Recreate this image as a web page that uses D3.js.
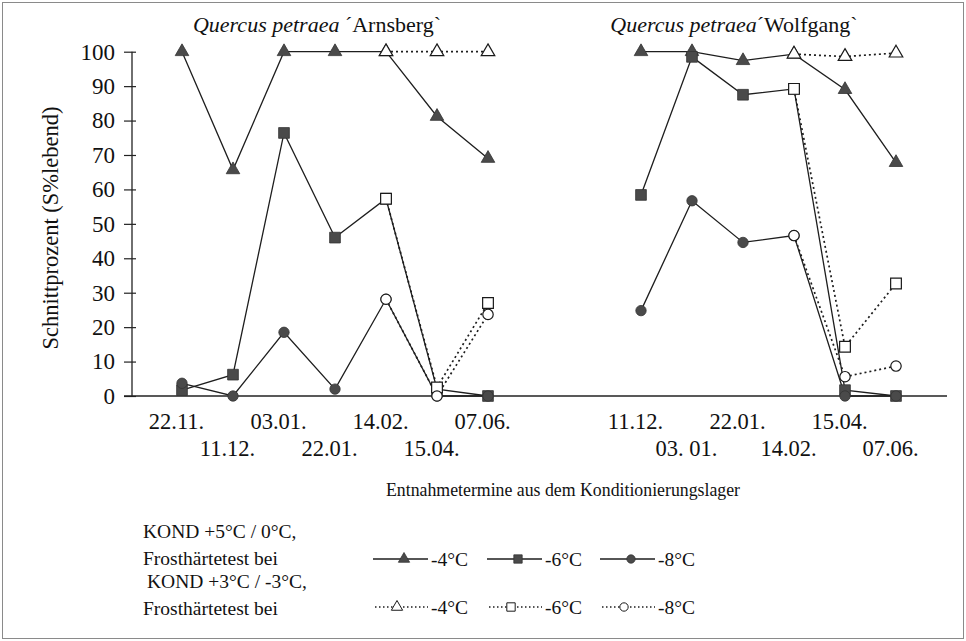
<!DOCTYPE html>
<html>
<head>
<meta charset="utf-8">
<script src="https://cdn.jsdelivr.net/npm/d3@7"></script>
<style>
  html, body { margin: 0; padding: 0; background: #fff; }
  svg { display: block; }
</style>
</head>
<body>
<svg id="chart" width="966" height="641"></svg>
<script>
// Sampling dates for the two cultivars
const arnsbergDates = ["22.11.", "11.12.", "03.01.", "22.01.", "14.02.", "15.04.", "07.06."];
const wolfgangDates = ["11.12.", "03. 01.", "22.01.", "14.02.", "15.04.", "07.06."];
// Dates from which the second conditioning regime is continued
const arnsbergDates2 = ["14.02.", "15.04.", "07.06."];
const wolfgangDates2 = ["14.02.", "15.04.", "07.06."];

// KOND +5°C / 0°C (solid), Arnsberg
const arnsberg5_m4 = [100, 65.7, 100, 100, 100, 81.2, 69];
const arnsberg5_m6 = [1.7, 6.2, 76.4, 46, 57.3, 2, 0];
const arnsberg5_m8 = [3.7, 0, 18.5, 2, 28.1, 0, 0];
// KOND +3°C / -3°C (dotted), Arnsberg
const arnsberg3_m4 = [100, 100, 100];
const arnsberg3_m6 = [57.3, 2.5, 27];
const arnsberg3_m8 = [28.1, 0, 23.7];

// KOND +5°C / 0°C (solid), Wolfgang
const wolfgang5_m4 = [100, 100, 97.4, 99.3, 89, 67.8];
const wolfgang5_m6 = [58.4, 98.5, 87.5, 89.2, 1.7, 0];
const wolfgang5_m8 = [24.8, 56.7, 44.6, 46.6, 0, 0];
// KOND +3°C / -3°C (dotted), Wolfgang
const wolfgang3_m4 = [99.3, 98.6, 99.6];
const wolfgang3_m6 = [89.2, 14.3, 32.7];
const wolfgang3_m8 = [46.6, 5.6, 8.7];

const yTicks = [0, 10, 20, 30, 40, 50, 60, 70, 80, 90, 100];
const legendTemps = ["-4°C", "-6°C", "-8°C"];

const SERIF = "'Liberation Serif', 'Times New Roman', serif";
const svg = d3.select("#chart");

// outer frame
svg.append("rect").attr("x", 2.5).attr("y", 2.5).attr("width", 961).attr("height", 636)
  .attr("fill", "none").attr("stroke", "#8a8a8a").attr("stroke-width", 1);

// one shared categorical axis: Arnsberg slots, two empty slots, Wolfgang slots
const slotsA = arnsbergDates.map(d => "A|" + d);
const slotsW = wolfgangDates.map(d => "W|" + d);
const slots = ["start", ...slotsA, "gap1", "gap2", ...slotsW, "end"];
const x = d3.scalePoint().domain(slots).range([131, 947]);
const y = d3.scaleLinear().domain([0, 100]).range([396, 51.7]);
const axisX = 132;

// y axis
const yAxis = svg.append("g").attr("transform", `translate(${axisX},0)`)
  .call(d3.axisLeft(y).tickValues(yTicks).tickSize(8).tickPadding(9).tickFormat(d3.format("d")));
yAxis.select(".domain").attr("stroke", "#222").attr("stroke-width", 1.3).attr("d", `M0,${y(0)}V${y(100)}`);
yAxis.selectAll(".tick line").attr("x1", 4).attr("stroke", "#222").attr("stroke-width", 1.2);
yAxis.selectAll(".tick text").attr("fill", "#111")
  .style("font-family", SERIF).style("font-size", "23px");

// x axis baseline
svg.append("line").attr("x1", 124).attr("x2", 947).attr("y1", y(0)).attr("y2", y(0))
  .attr("stroke", "#222").attr("stroke-width", 1.3);

// x axis labels in two staggered rows
const labelSlots = [...slotsA, ...slotsW];
const xAxis = svg.append("g").attr("transform", `translate(0,${y(0)})`)
  .call(d3.axisBottom(x).tickValues(labelSlots).tickSize(0).tickFormat(d => d.split("|")[1]));
xAxis.select(".domain").remove();
xAxis.selectAll(".tick text")
  .attr("fill", "#111")
  .style("font-family", SERIF).style("font-size", "22.5px")
  .attr("dy", null).attr("dx", -6)
  .attr("y", d => {
    const list = d.startsWith("A|") ? slotsA : slotsW;
    return list.indexOf(d) % 2 === 0 ? 33 : 60;
  });

function txt(tx, ty, str, size, anchor) {
  return svg.append("text").attr("x", tx).attr("y", ty)
    .attr("text-anchor", anchor || "start").attr("fill", "#111")
    .style("font-family", SERIF).style("font-size", size + "px").text(str);
}

// y axis title
svg.append("text").attr("transform", "translate(58,228) rotate(-90)")
  .attr("text-anchor", "middle").attr("fill", "#111")
  .style("font-family", SERIF).style("font-size", "22.5px")
  .text("Schnittprozent (S%lebend)");

// panel titles
function title(cx, name, sep) {
  const t = txt(cx, 32, "", 22, "middle");
  t.append("tspan").style("font-style", "italic").text("Quercus petraea");
  t.append("tspan").text(sep + name);
}
title(317, "´Arnsberg`", " ");
title(734, "´Wolfgang`", "");

// x axis title
txt(563, 496, "Entnahmetermine aus dem Konditionierungslager", 17.8, "middle");

// series definitions
const shapes = { m4: d3.symbolTriangle, m6: d3.symbolSquare, m8: d3.symbolCircle };
const sizes = { m4: 80, m6: 115, m8: 85 };
const solid = [
  { p: "A", dates: arnsbergDates, vals: arnsberg5_m4, k: "m4" },
  { p: "A", dates: arnsbergDates, vals: arnsberg5_m6, k: "m6" },
  { p: "A", dates: arnsbergDates, vals: arnsberg5_m8, k: "m8" },
  { p: "W", dates: wolfgangDates, vals: wolfgang5_m4, k: "m4" },
  { p: "W", dates: wolfgangDates, vals: wolfgang5_m6, k: "m6" },
  { p: "W", dates: wolfgangDates, vals: wolfgang5_m8, k: "m8" }
];
const dotted = [
  { p: "A", dates: arnsbergDates2, vals: arnsberg3_m4, k: "m4" },
  { p: "A", dates: arnsbergDates2, vals: arnsberg3_m6, k: "m6" },
  { p: "A", dates: arnsbergDates2, vals: arnsberg3_m8, k: "m8" },
  { p: "W", dates: wolfgangDates2, vals: wolfgang3_m4, k: "m4" },
  { p: "W", dates: wolfgangDates2, vals: wolfgang3_m6, k: "m6" },
  { p: "W", dates: wolfgangDates2, vals: wolfgang3_m8, k: "m8" }
];
const pts = s => s.vals.map((v, i) => [x(s.p + "|" + s.dates[i]), y(v)]);
const line = d3.line();

const lineColor = "#1e1e1e";
const fillDark = "#4a4a4a";

solid.forEach(s => {
  svg.append("path").attr("d", line(pts(s))).attr("fill", "none")
    .attr("stroke", lineColor).attr("stroke-width", 1.3);
});
dotted.forEach(s => {
  svg.append("path").attr("d", line(pts(s))).attr("fill", "none")
    .attr("stroke", lineColor).attr("stroke-width", 1.7).attr("stroke-dasharray", "2,3");
});
solid.forEach(s => {
  pts(s).forEach(p => {
    svg.append("path").attr("d", d3.symbol(shapes[s.k], sizes[s.k])())
      .attr("transform", `translate(${p[0]},${p[1]})`)
      .attr("fill", fillDark).attr("stroke", "#333").attr("stroke-width", 0.8);
  });
});
dotted.forEach(s => {
  pts(s).forEach(p => {
    svg.append("path").attr("d", d3.symbol(shapes[s.k], sizes[s.k])())
      .attr("transform", `translate(${p[0]},${p[1]})`)
      .attr("fill", "#fff").attr("stroke", "#1a1a1a").attr("stroke-width", 1.2);
  });
});

// legend
txt(143, 538, "KOND +5°C / 0°C,", 19.5);
txt(143, 565, "Frosthärtetest bei", 19.5);
txt(147, 588, "KOND +3°C / -3°C,", 19.5);
txt(143, 615, "Frosthärtetest bei", 19.5);

const legKeys = ["m4", "m6", "m8"];
const legX = [373, 487, 600];
const legSizes = { m4: 55, m6: 70, m8: 55 };
legKeys.forEach((k, i) => {
  const x0 = legX[i];
  // solid row
  svg.append("line").attr("x1", x0).attr("x2", x0 + 55).attr("y1", 559).attr("y2", 559)
    .attr("stroke", lineColor).attr("stroke-width", 1.3);
  svg.append("path").attr("d", d3.symbol(shapes[k], legSizes[k])())
    .attr("transform", `translate(${x0 + 31},559)`)
    .attr("fill", fillDark).attr("stroke", "#333").attr("stroke-width", 0.8);
  txt(x0 + 58, 566, legendTemps[i], 19.5);
  // dotted row
  svg.append("line").attr("x1", x0 + 2).attr("x2", x0 + 55).attr("y1", 607).attr("y2", 607)
    .attr("stroke", lineColor).attr("stroke-width", 1.3).attr("stroke-dasharray", "1.5,2.5");
  svg.append("path").attr("d", d3.symbol(shapes[k], legSizes[k])())
    .attr("transform", `translate(${x0 + 24},607)`)
    .attr("fill", "#fff").attr("stroke", "#1a1a1a").attr("stroke-width", 1);
  txt(x0 + 58, 614, legendTemps[i], 19.5);
});
</script>
</body>
</html>
